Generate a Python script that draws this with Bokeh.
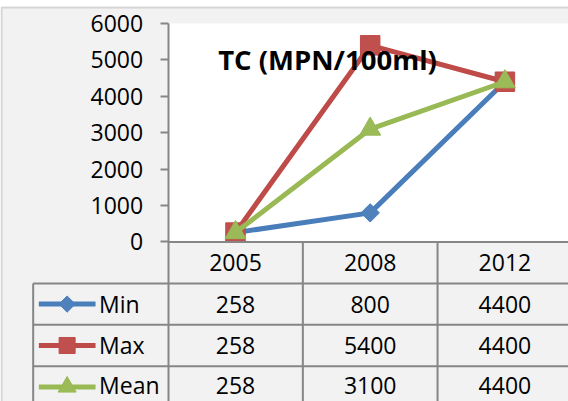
import numpy as np
from bokeh.plotting import figure
from bokeh.models import Range1d, LinearAxis, FixedTicker, BoxAnnotation, Label
from bokeh.core.properties import value
from bokeh.embed import file_html
from bokeh.resources import INLINE

# ---- data ----
categories = ["2005", "2008", "2012"]
series_names = ["Min", "Max", "Mean"]
min_values = [258, 800, 4400]
max_values = [258, 5400, 4400]
mean_values = [258, 3100, 4400]
y_ticks = [0, 1000, 2000, 3000, 4000, 5000, 6000]
title_text = "TC (MPN/100ml)"

# ---- style ----
FONT = "Open Sans"
GRAY = "#868686"
BG = "#f2f2f2"
styles = {
    "Min": dict(line="#4A7EBB", fill="#4F81BD", marker="square", angle=np.pi / 4, size=13, key_size=11.5),
    "Max": dict(line="#BE4B48", fill="#C0504D", marker="square", angle=0.0, size=19.5, key_size=16),
    "Mean": dict(line="#98B954", fill="#9BBB59", marker="triangle", angle=0.0, size=21, key_size=18),
}
series_values = {"Min": min_values, "Max": max_values, "Mean": mean_values}

xs = list(range(len(categories)))

Y_BOTTOM, Y_TOP = -4379.5, 6630.9
p = figure(width=568, height=401,
           x_range=Range1d(-1.7446, 2.4722), y_range=Range1d(Y_BOTTOM, Y_TOP),
           output_backend="svg", toolbar_location=None,
           x_axis_location=None, y_axis_location=None,
           min_border=0, title=None)
p.background_fill_color = "white"
p.border_fill_color = "white"
p.outline_line_color = None
p.xgrid.visible = False
p.ygrid.visible = False

# table row coordinates (row 0 = header)
p.extra_y_ranges = {"table": Range1d(start=3.853, end=-5.833)}

# chart area with its border
p.add_layout(BoxAnnotation(left=-1.7372, right=3.0, bottom=Y_BOTTOM - 2000, top=6438.8,
                           fill_color=BG, fill_alpha=1.0,
                           line_color=GRAY, line_width=2, level="underlay"))
# white plot area
p.add_layout(BoxAnnotation(left=-0.5, right=3.0, bottom=0, top=6000,
                           fill_color="white", fill_alpha=1.0,
                           line_color=None, level="underlay"))

# y axis (at the left edge of the plot area, extending down through the table)
yaxis = LinearAxis(fixed_location=-0.5, ticker=FixedTicker(ticks=y_ticks),
                   bounds=(Y_BOTTOM, 6000))
yaxis.axis_line_color = GRAY
yaxis.axis_line_width = 2
yaxis.major_tick_line_color = GRAY
yaxis.major_tick_line_width = 2
yaxis.major_tick_out = 8
yaxis.major_tick_in = 0
yaxis.minor_tick_out = 0
yaxis.minor_tick_in = 0
yaxis.major_label_text_font = FONT
yaxis.major_label_text_font_size = "23px"
yaxis.major_label_text_color = "black"
yaxis.major_label_standoff = 17
p.add_layout(yaxis, "left")

# series lines and markers
for name in series_names:
    st = styles[name]
    vals = series_values[name]
    p.line(xs, vals, line_color=st["line"], line_width=5)
    p.scatter(xs, vals, marker=st["marker"], angle=st["angle"], size=st["size"],
              fill_color=st["fill"], line_color=st["line"], line_width=1)

# title inside plot area
p.add_layout(Label(x=0.683, y=5003, text=title_text, text_font=FONT,
                   text_font_size="27.5px", text_font_style="bold",
                   text_align="center", text_baseline="alphabetic",
                   text_color="black"))

# ---- data table ----
n_rows = len(series_names)
table_left = -1.502
right_end = 3.0
bottom_end = 4.0
hx0 = [-0.5] + [table_left] * n_rows
hx1 = [right_end] * (n_rows + 1)
hy = [0] + [i + 1 for i in range(n_rows)]
p.segment(x0=hx0, y0=hy, x1=hx1, y1=hy, y_range_name="table",
          line_color=GRAY, line_width=2)
vx = [table_left] + [c + 0.5 for c in xs[:-1]]
vy0 = [1] + [0] * (len(xs) - 1)
vy1 = [bottom_end] * len(vx)
p.segment(x0=vx, y0=vy0, x1=vx, y1=vy1, y_range_name="table",
          line_color=GRAY, line_width=2)

# header row: categories
p.text(x=xs, y=[0.5] * len(xs), text=categories, y_range_name="table",
       text_font=value(FONT), text_font_size="23px", text_color="black",
       text_align="center", text_baseline="middle")

# value rows with legend keys
for i, name in enumerate(series_names):
    st = styles[name]
    vals = series_values[name]
    yc = i + 1.5
    # last row is cut by the picture's edge: keep its text just inside
    yt = yc - (0.04 if i == n_rows - 1 else 0.0)
    p.text(x=xs, y=[yt] * len(xs), text=[str(v) for v in vals], y_range_name="table",
           text_font=value(FONT), text_font_size="23px", text_color="black",
           text_align="center", text_baseline="middle")
    p.segment(x0=[-1.46], y0=[yc], x1=[-1.039], y1=[yc], y_range_name="table",
              line_color=st["line"], line_width=5)
    p.scatter(x=[-1.25], y=[yc], y_range_name="table", marker=st["marker"],
              angle=st["angle"], size=st["key_size"],
              fill_color=st["fill"], line_color=st["line"], line_width=1)
    p.text(x=[-1.0126], y=[yt], text=[name], y_range_name="table",
           text_font=value(FONT), text_font_size="23px", text_color="black",
           text_align="left", text_baseline="middle")

open("out.html", "w").write(file_html(p, INLINE))
